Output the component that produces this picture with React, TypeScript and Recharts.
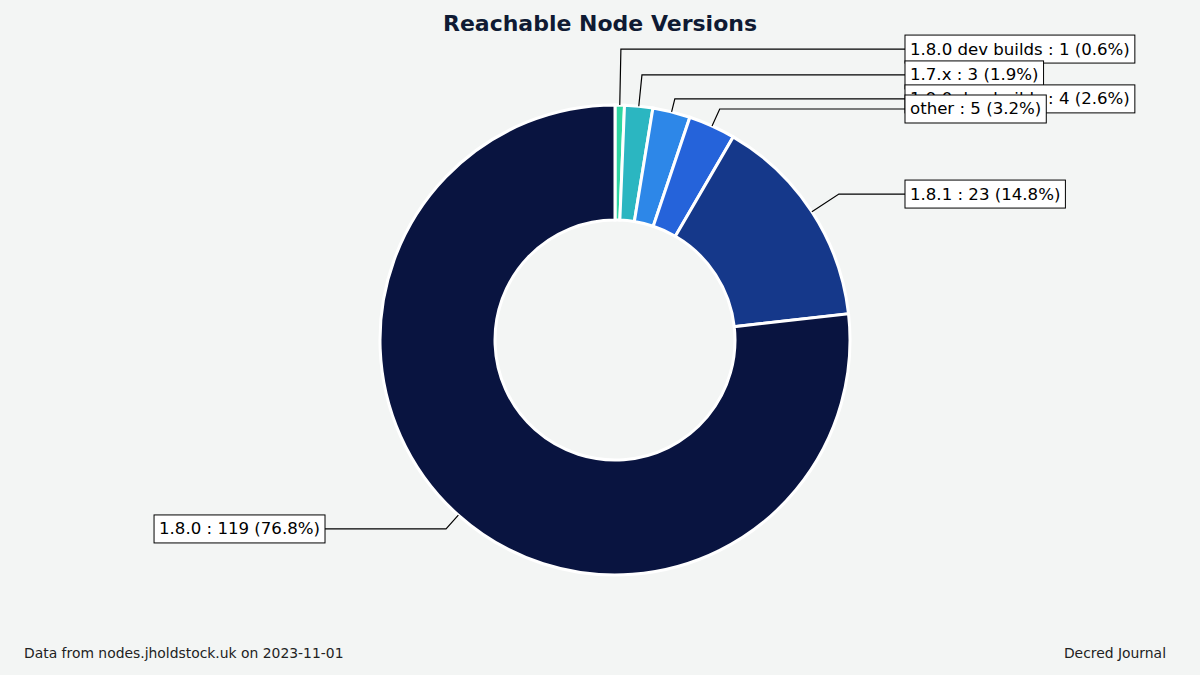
import { PieChart, Pie, Cell } from "recharts";

const versions = ["1.8.0 dev builds", "1.7.x", "1.9.0 dev builds", "other", "1.8.1", "1.8.0"];
const nodeCounts = [1, 3, 4, 5, 23, 119];
const sliceColors = ["#2ED6A1", "#2BB6C1", "#2D87E8", "#2563DA", "#15388A", "#091440"];

// how far above (+) / below (-) the centre each label box sits, as a fraction of the radius
const labelRise: Record<string, number> = {
  "1.8.0 dev builds": 1.238,
  "1.7.x": 1.128,
  "1.9.0 dev builds": 1.026,
  other: 0.983,
  "1.8.1": 0.621,
  "1.8.0": -0.804,
};

const total = nodeCounts.reduce((a, b) => a + b, 0);
const data = versions.map((name, i) => ({ name, value: nodeCounts[i] }));

const FONT = '"DejaVu Sans", sans-serif';
const LABEL_SIZE = 16.6;
const RADIAN = Math.PI / 180;

let measureCtx: CanvasRenderingContext2D | null = null;
const textWidth = (s: string) => {
  if (!measureCtx) measureCtx = document.createElement("canvas").getContext("2d");
  if (!measureCtx) return s.length * 9;
  measureCtx.font = `${LABEL_SIZE}px "DejaVu Sans"`;
  return measureCtx.measureText(s).width;
};

const renderLabel = (props: any) => {
  const { cx, cy, midAngle, outerRadius, name, value, index } = props;
  const a = midAngle * RADIAN;
  const ax = cx + outerRadius * Math.cos(a);
  const ay = cy - outerRadius * Math.sin(a);
  const ly = cy - labelRise[name] * outerRadius;
  const s = (ay - ly) / Math.sin(a);
  const bx = ax + s * Math.cos(a);
  const right = Math.cos(a) >= 0;
  const edge = cx + (right ? 1 : -1) * outerRadius * 1.234;
  const text = `${name} : ${value} (${((value / total) * 100).toFixed(1)}%)`;
  const w = textWidth(text);
  const pad = 5;
  const boxX = right ? edge : edge - w - 2 * pad;
  return (
    <g key={`lbl-${index}`}>
      <path d={`M${ax},${ay}L${bx},${ly}L${edge},${ly}`} fill="none" stroke="#000" strokeWidth={1.2} />
      <rect x={boxX} y={ly - 14} width={w + 2 * pad} height={28} fill="#fff" stroke="#000" strokeWidth={1} />
      <text x={boxX + pad} y={ly} dominantBaseline="central" fontFamily={FONT} fontSize={LABEL_SIZE} fill="#000">
        {text}
      </text>
    </g>
  );
};

export default function App() {
  return (
    <div style={{ position: "fixed", left: 0, top: 0, width: 1200, height: 675, background: "#F3F5F4" }}>
      <PieChart width={1200} height={675} margin={{ top: 0, right: 0, bottom: 0, left: 0 }}>
        <text x={600} y={23} textAnchor="middle" dominantBaseline="central" fontFamily={FONT} fontWeight="bold" fontSize={22} fill="#0F1A33">
          Reachable Node Versions
        </text>
        <Pie
          data={data}
          dataKey="value"
          nameKey="name"
          cx={615}
          cy={340}
          innerRadius={120}
          outerRadius={235}
          startAngle={90}
          endAngle={-270}
          stroke="#FFFFFF"
          strokeWidth={3}
          labelLine={false}
          label={renderLabel}
          isAnimationActive={false}
        >
          {data.map((d, i) => (
            <Cell key={d.name} fill={sliceColors[i]} />
          ))}
        </Pie>
        <text x={24} y={653} dominantBaseline="central" fontFamily={FONT} fontSize={13.9} fill="#222">
          Data from nodes.jholdstock.uk on 2023-11-01
        </text>
        <text x={1166} y={653} textAnchor="end" dominantBaseline="central" fontFamily={FONT} fontSize={13.9} fill="#222">
          Decred Journal
        </text>
      </PieChart>
    </div>
  );
}
